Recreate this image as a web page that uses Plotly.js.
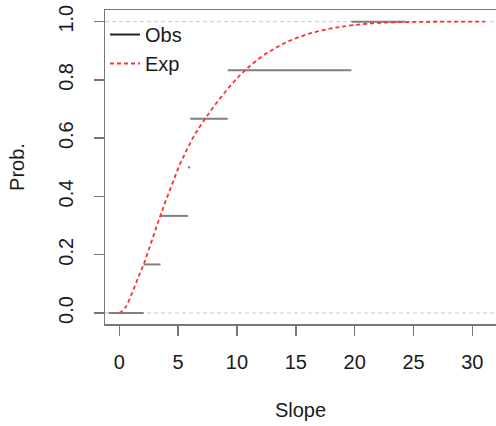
<!DOCTYPE html>
<html>
<head>
<meta charset="utf-8">
<script src="https://cdn.plot.ly/plotly-3.0.1.min.js"></script>
<style>html,body{margin:0;padding:0;overflow:hidden;background:#fff;}</style>
</head>
<body>
<div id="chart" style="width:496px;height:426px;"></div>
<script>
// Observed ECDF: jump locations and levels
var obsKnots = [2.07, 3.50, 5.84, 6.03, 9.22, 19.72];
var obsLevels = [0, 0.1667, 0.3333, 0.5, 0.6667, 0.8333, 1];
var obsLeft = -0.9;
var obsRight = 24.3;

// Expected (fitted) CDF
var expX = [0, 0.5, 1.08, 1.64, 2.07, 2.63, 3.06, 3.48, 3.9, 4.47, 5.04, 5.74, 6.45, 7.3, 8.43, 9.7, 10.7, 11.97, 13.39, 14.8, 16.49, 18.19, 19.89, 22.16, 24.98, 28.0, 31.07];
var expY = [0, 0.018, 0.068, 0.125, 0.167, 0.232, 0.284, 0.333, 0.38, 0.44, 0.50, 0.56, 0.615, 0.667, 0.73, 0.792, 0.833, 0.876, 0.912, 0.94, 0.963, 0.978, 0.988, 0.996, 0.999, 1.0, 1.0];

var refLevels = [0, 1];
var xTicks = [0, 5, 10, 15, 20, 25, 30];
var yTicks = [0, 0.2, 0.4, 0.6, 0.8, 1.0];
var yTickText = ['0.0', '0.2', '0.4', '0.6', '0.8', '1.0'];

// build step segments
var bounds = [obsLeft].concat(obsKnots).concat([obsRight]);
var sx = [], sy = [];
for (var i = 0; i < obsLevels.length; i++) {
  sx.push(bounds[i], bounds[i + 1], null);
  sy.push(obsLevels[i], obsLevels[i], null);
}

var font = "'Liberation Sans', Arial, Helvetica, sans-serif";
var txt = '#1a1a1a';

var traces = [
  {x: sx, y: sy, mode: 'lines', showlegend: false, hoverinfo: 'skip',
   line: {color: '#808080', width: 2}},
  {x: expX, y: expY, mode: 'lines', name: 'Exp', showlegend: false,
   line: {color: '#ff3030', width: 1.8, dash: '4px,3px', shape: 'spline'}},
  {x: [null], y: [null], mode: 'lines', name: 'Obs', line: {color: '#222', width: 2}},
  {x: [null], y: [null], mode: 'lines', name: 'Exp', line: {color: '#ff3030', width: 1.8, dash: '4px,3px'}}
];

var shapes = refLevels.map(function (v) {
  return {type: 'line', xref: 'paper', x0: 0, x1: 1, yref: 'y', y0: v, y1: v,
          line: {color: '#c8c8c8', width: 1, dash: '4px,3px'}, layer: 'below'};
});

var layout = {
  width: 496, height: 426,
  margin: {l: 105, r: 0, t: 10, b: 102},
  paper_bgcolor: '#fff', plot_bgcolor: '#fff',
  font: {family: font, size: 20, color: txt},
  showlegend: true,
  legend: {x: 0, y: 0.984, xanchor: 'left', yanchor: 'top', bgcolor: 'rgba(0,0,0,0)',
           font: {family: font, size: 20, color: txt}, itemwidth: 30, tracegroupgap: 0},
  xaxis: {range: [-1.214, 32.01], tickvals: xTicks, ticktext: xTicks.map(String),
          showgrid: false, zeroline: false, showline: true, mirror: true,
          linecolor: '#777', linewidth: 1.5, ticks: 'outside', ticklen: 10,
          tickcolor: '#777', tickwidth: 1.5, ticklabelstandoff: 9,
          tickfont: {family: font, size: 20, color: txt},
          title: {text: 'Slope', font: {family: font, size: 20, color: txt}, standoff: 31}},
  yaxis: {range: [-0.0377, 1.04], tickvals: yTicks, ticktext: yTickText, tickangle: -90,
          showgrid: false, zeroline: false, showline: true, mirror: false,
          linecolor: '#777', linewidth: 1.5, ticks: 'outside', ticklen: 10,
          tickcolor: '#777', tickwidth: 1.5, ticklabelstandoff: 13,
          tickfont: {family: font, size: 20, color: txt},
          title: {text: 'Prob.', font: {family: font, size: 20, color: txt}, standoff: 24}},
  shapes: shapes
};

Plotly.newPlot('chart', traces, layout, {displayModeBar: false, staticPlot: true});
</script>
</body>
</html>
